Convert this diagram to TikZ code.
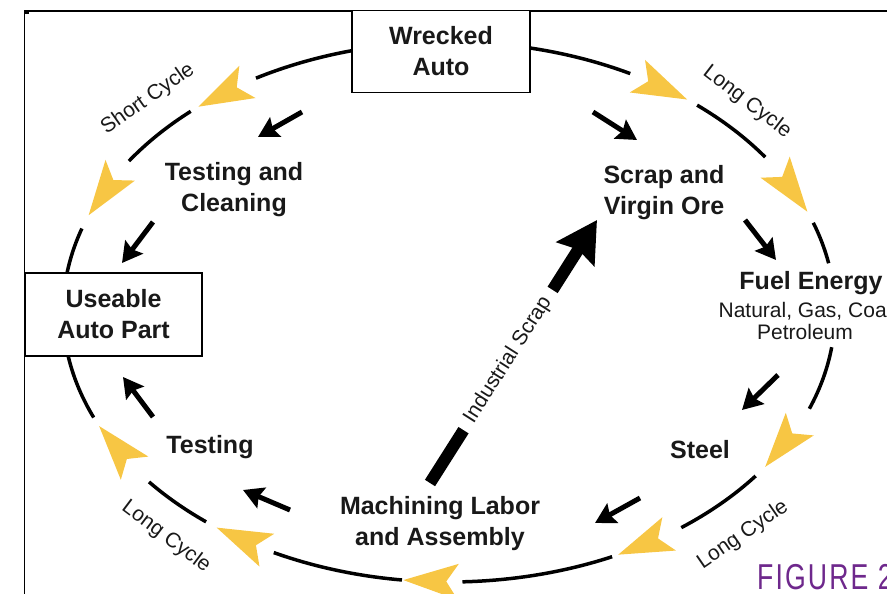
\documentclass[tikz,border=0pt]{standalone}
\usepackage{fontspec}
\setmainfont{Liberation Sans}
\usetikzlibrary{arrows.meta}
\definecolor{ycol}{RGB}{247,198,68}
\definecolor{purp}{RGB}{110,40,140}
\begin{document}
\begin{tikzpicture}[x=1pt,y=1pt,
  big/.style={font=\fontsize{25}{31}\selectfont\bfseries, align=center, text=black!90},
  small/.style={font=\fontsize{21}{22}\selectfont, align=center, text=black!90},
  box/.style={draw, line width=1.8pt, fill=white, minimum width=178pt, minimum height=82pt, inner sep=0pt},
  cyc/.style={line width=3.5pt},
  barrow/.style={line width=5pt, -{Stealth[length=20pt,width=22pt,inset=3pt]}},
]
\useasboundingbox (0,0) rectangle (887,594);
% frame
\draw[line width=1.5pt] (24.5,0) -- (24.5,583) -- (887,583);
\fill (24,580) rectangle (29,584);
\fill (25,287) rectangle (29,291);
\fill (463,580) rectangle (467,584);
% cycle ellipse pieces
\coordinate (C) at (449,282);
\foreach \a/\b in {62/120,132/146,162/203,219/231,243/263,272/295,307/322.6,339/352.5,10.4/19.3,35/50}
  \draw[cyc] (C) ++(\a:386 and 270) arc[start angle=\a,end angle=\b,x radius=386,y radius=270];
% yellow heads
\foreach \tb/\tt in {121/130.5,148.7/159,216/205,241.5/233,271.6/263.2,304.5/296,336/325,31.9/21.8,60.4/51.9}{
  \pgfmathsetmacro\dx{386*(cos(\tt)-cos(\tb))}
  \pgfmathsetmacro\dy{270*(sin(\tt)-sin(\tb))}
  \pgfmathsetmacro\ang{atan2(\dy,\dx)}
  \pgfmathsetmacro\px{449+386*cos(\tt)}
  \pgfmathsetmacro\py{282+270*sin(\tt)}
  \fill[ycol, shift={(\px,\py)}, rotate=\ang] (0,0) -- (-55,18) -- (-43,0) -- (-55,-18) -- cycle;
}
% boxes and labels
\node[box,big] (wreck) at (441,542.5) {Wrecked\\Auto};
\node[box,big,minimum width=177pt,minimum height=83pt] (useable) at (113.5,279.5) {Useable\\Auto Part};
\node[big] (testclean) at (234,404) {Testing and\\Cleaning};
\node[big] (scrap) at (664,401) {Scrap and\\Virgin Ore};
\node[big] (fuel) at (811,311) {Fuel Energy};
\node[small] (fuelsub) at (805,273) {Natural, Gas, Coal\\Petroleum};
\node[big] (steel) at (700,144) {Steel};
\node[big] (mach) at (440,70) {Machining Labor\\and Assembly};
\node[big] (testing) at (210,147) {Testing};
\node[small, rotate=35] (sc) at (148,495) {Short Cycle};
\node[small, rotate=-37.5] (lc1) at (747,492) {Long Cycle};
\node[small, rotate=-37] (lc2) at (166,57) {Long Cycle};
\node[small, rotate=34.5] (lc3) at (743,59) {Long Cycle};
% small black arrows
\coordinate (a1) at (302,482); \coordinate (b1) at (258,457);
\coordinate (a2) at (153,372); \coordinate (b2) at (122,331);
\coordinate (a3) at (593,482); \coordinate (b3) at (637,454);
\coordinate (a4) at (745,374); \coordinate (b4) at (776,334);
\coordinate (a5) at (778,219); \coordinate (b5) at (742,184);
\coordinate (a6) at (640,96);  \coordinate (b6) at (595,71);
\coordinate (a7) at (290,84);  \coordinate (b7) at (243,104);
\coordinate (a8) at (153,177); \coordinate (b8) at (123,217);
\foreach \i in {1,...,8} \draw[barrow] (a\i) -- (b\i);
% industrial scrap arrow
\coordinate (i1) at (430,111); \coordinate (i2) at (597,374);
\draw[line width=12pt, -{Stealth[length=40pt,width=44pt,inset=5pt]}] (i1) -- (i2);
\node[small, fill=white, rotate=57.6, inner xsep=10pt, inner ysep=4pt] (ind) at (508,234) {Industrial Scrap};
% figure caption
\node[anchor=base west, text=purp, font=\fontsize{36}{36}\selectfont\addfontfeature{LetterSpace=8}, xscale=0.74, inner sep=0pt] (fig) at (757,4) {FIGURE 2};
\end{tikzpicture}
\end{document}
